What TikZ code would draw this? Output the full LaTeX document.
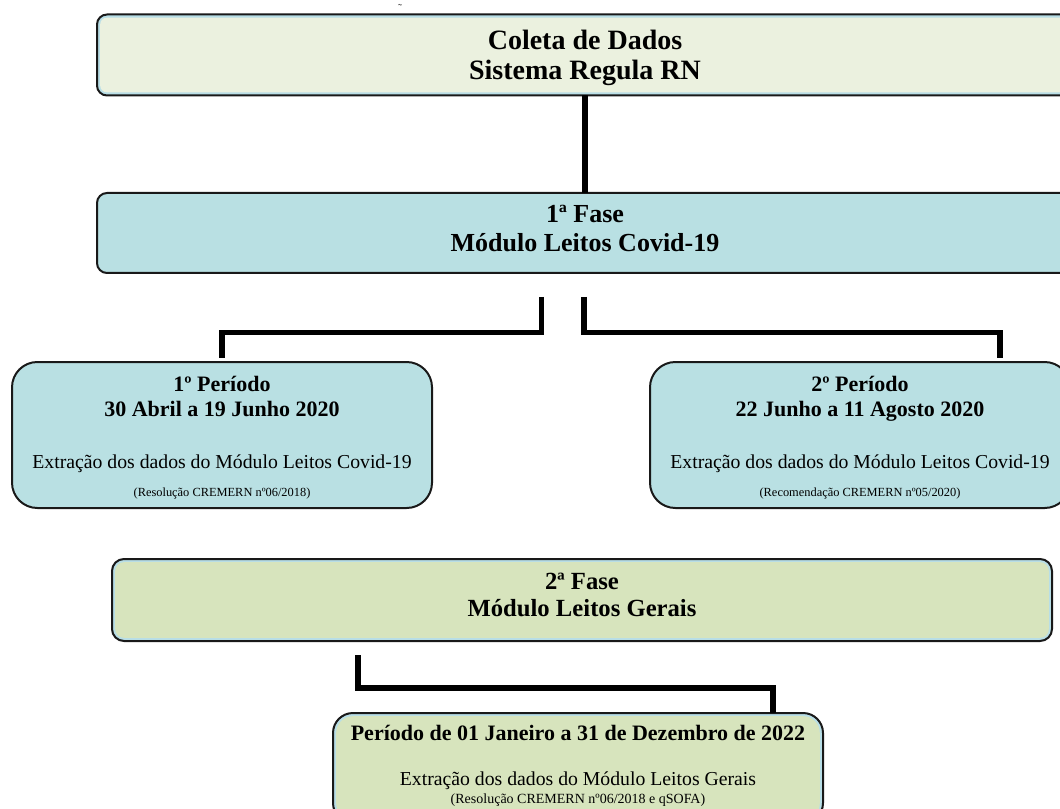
\documentclass[tikz,border=0pt]{standalone}
\usepackage{fontspec}
\setmainfont{Liberation Serif}
\usetikzlibrary{positioning}
\definecolor{creme}{HTML}{EBF1DF}
\definecolor{faixaazul}{HTML}{B8DEE6}
\definecolor{azul}{HTML}{B9E0E3}
\definecolor{verde}{HTML}{D7E4BD}
\tikzset{
  caixa/.style={draw=black!90, line width=1.5pt, inner sep=0pt, outer sep=0pt},
  faixa/.style 2 args={fill=faixaazul, path picture={\fill[#1, rounded corners=#2]
      ([shift={(2.4pt,-2.4pt)}]path picture bounding box.north west) rectangle
      ([shift={(-2.4pt,2.4pt)}]path picture bounding box.south east);}},
  texto/.style={anchor=base, inner sep=0pt, text=black},
  ligacao/.style={line width=3.8pt, black},
}
\begin{document}
\begin{tikzpicture}[x=0.75pt,y=-0.75pt]
\useasboundingbox (0,0) rectangle (1060,809);

\node[texto, text=black!75] (til) at (400,13) {\fontsize{9}{9}\selectfont ˜};

% coleta de dados
\node[caixa, rounded corners=7.5pt, faixa={creme}{5pt}, minimum width=732pt, minimum height=60.75pt] (topo) at (585,55) {};
\node[texto] (topo1) at ([yshift=-25.9pt]topo.north) {\fontsize{21}{21}\selectfont\bfseries Coleta de Dados};
\node[texto] (topo2) at ([yshift=-49.1pt]topo.north) {\fontsize{21}{21}\selectfont\bfseries Sistema Regula RN};

% 1a fase
\node[caixa, rounded corners=7.5pt, fill=azul, minimum width=732pt, minimum height=60pt] (fase1) at (585,233) {};
\node[texto] (fase1a) at ([yshift=-22.5pt]fase1.north) {\fontsize{19.5}{19.5}\selectfont\bfseries 1ª Fase};
\node[texto] (fase1b) at ([yshift=-44.25pt]fase1.north) {\fontsize{19.5}{19.5}\selectfont\bfseries Módulo Leitos Covid-19};

\foreach \nome/\x/\ordem/\datas/\norma in {p1/222/1/30 Abril a 19 Junho 2020/{(Resolução CREMERN nº06/2018)},
    p2/860/2/22 Junho a 11 Agosto 2020/{(Recomendação CREMERN nº05/2020)}}
{
    \node[caixa, rounded corners=19pt, fill=azul, minimum width=315pt, minimum height=109.5pt] (\nome) at (\x,435) {};
    \node[texto] (\nome a) at ([yshift=-22.3pt]\nome.north) {\fontsize{16.5}{16.5}\selectfont\bfseries \ordem º Período};
    \node[texto] (\nome b) at ([yshift=-41pt]\nome.north) {\fontsize{16.5}{16.5}\selectfont\bfseries \datas};
    \node[texto] (\nome c) at ([yshift=-79.5pt]\nome.north) {\fontsize{14.8}{14.8}\selectfont Extração dos dados do Módulo Leitos Covid-19};
    \node[texto] (\nome d) at ([yshift=-101pt]\nome.north) {\fontsize{9.3}{9.3}\selectfont \norma};
}

% 2a fase
\node[caixa, rounded corners=9pt, faixa={verde}{6.5pt}, minimum width=705pt, minimum height=61.5pt] (fase2) at (582,600) {};
\node[texto] (fase2a) at ([yshift=-22.5pt]fase2.north) {\fontsize{18.5}{18.5}\selectfont\bfseries 2ª Fase};
\node[texto] (fase2b) at ([yshift=-42.75pt]fase2.north) {\fontsize{18.5}{18.5}\selectfont\bfseries Módulo Leitos Gerais};

\node[caixa, rounded corners=15pt, faixa={verde}{12.5pt}, minimum width=367.5pt, minimum height=82.5pt] (p3) at (578,768) {};
\node[texto] (p3a) at ([yshift=-20.25pt]p3.north) {\fontsize{16.5}{16.5}\selectfont\bfseries Período de 01 Janeiro a 31 de Dezembro de 2022};
\node[texto] (p3b) at ([yshift=-54pt]p3.north) {\fontsize{14.8}{14.8}\selectfont Extração dos dados do Módulo Leitos Gerais};
\node[texto] (p3c) at ([yshift=-67.5pt]p3.north) {\fontsize{10.5}{10.5}\selectfont (Resolução CREMERN nº06/2018 e qSOFA)};

% ligacoes
\coordinate (s1) at ([shift={(-43.5,24)}]fase1.south);
\coordinate (s2) at ([shift={(-1,24)}]fase1.south);
\coordinate (e1) at ([yshift=3pt]p1.north);
\coordinate (e2) at ([shift={(140,-4)}]p2.north);
\coordinate (s3) at ([shift={(-224,14)}]fase2.south);
\coordinate (e3) at ([xshift=146.25pt]p3.north);

\draw[ligacao] (topo) -- (fase1);
\draw[ligacao] (s1) -- ++(0,35.5) -| (e1);
\draw[ligacao] (s2) -- ++(0,35.5) -| (e2);
\draw[ligacao] (s3) -- ++(0,33) -| (e3);

\end{tikzpicture}
\end{document}
